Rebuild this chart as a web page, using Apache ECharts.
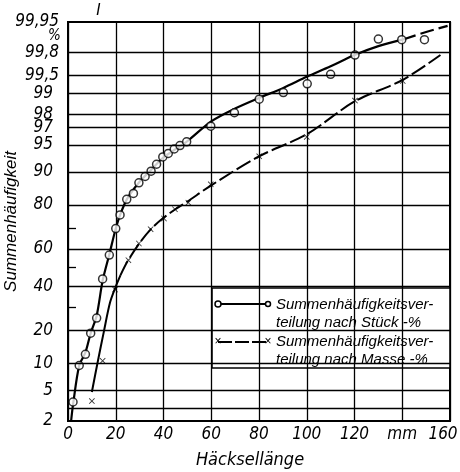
<!DOCTYPE html>
<html><head><meta charset="utf-8">
<script src="https://cdn.jsdelivr.net/npm/echarts@6/dist/echarts.min.js"></script>
<style>html,body{margin:0;padding:0;background:#fff}#c{width:460px;height:472px}</style>
</head><body><div id="c"></div>
<script>
// ---------- data ----------
// measured points: Summenhäufigkeitsverteilung nach Stück (circles)
const stueckX = [2.1, 4.7, 7.3, 9.5, 12.0, 14.5, 17.3, 20.0, 21.8, 24.6, 27.4, 29.7, 32.3, 34.8, 37.1, 39.7, 42.0, 44.5, 46.9, 49.7, 59.8, 69.7, 80.1, 90.2, 100.2, 110.0, 120.2, 130.0, 139.8, 149.3];
const stueckP = [3.6, 9.5, 12.3, 19, 25, 44, 56.7, 70, 76, 82, 84, 87.2, 88.9, 90.2, 91.7, 93.1, 93.7, 94.4, 94.9, 95.4, 97.1, 98.1, 98.8, 99.05, 99.31, 99.52, 99.78, 99.89, 99.887, 99.887];
// measured points: nach Masse (crosses)
const masseX = [10, 14.5, 19.7, 25.3, 29.7, 34.6, 40.2, 44.8, 50.4, 59.8, 80.1, 100, 120.2, 140.2];
const masseP = [3.7, 10.6, 38.5, 54, 62.7, 69.7, 74.5, 78.3, 80.8, 86.8, 93.2, 96.0, 98.74, 99.38];
// fitted curves
const stueckCurveX = [1.3, 2.2, 4.7, 7.3, 9.5, 12, 14.5, 17.3, 20, 22, 25, 30, 35, 40, 50, 60, 70, 80, 90, 100, 110, 120, 130, 140];
const stueckCurveP = [2, 3.5, 9.5, 12.8, 19, 26, 43, 57, 70, 76.5, 82.5, 87.5, 90.6, 93, 95.5, 97.5, 98.35, 98.85, 99.19, 99.47, 99.65, 99.78, 99.85, 99.887];
const stueckDashX = [140, 150, 159];
const stueckDashP = [99.887, 99.92, 99.94];
const masseCurveX = [10, 12.5, 15, 17.6, 20, 22];
const masseCurveP = [4.8, 10.5, 19.5, 32, 40, 46];
const masseDashX = [22, 25, 30, 35, 40, 45, 50, 60, 80, 100, 120, 140, 156];
const masseDashP = [46, 53.5, 63, 70, 74.8, 78.3, 81.2, 86.5, 93.2, 96.3, 98.7, 99.4, 99.78];
// axis ticks
const xTicks = [0, 20, 40, 60, 80, 100, 120, 140, 160];
const xTickLabels = ['0', '20', '40', '60', '80', '100', '120', 'mm', '160'];
const yTickPct = [2, 5, 10, 20, 40, 60, 80, 90, 95, 97, 98, 99, 99.5, 99.8, 99.95];
const yTickLabels = ['2', '5', '10', '20', '40', '60', '80', '90', '95', '97', '98', '99', '99,5', '99,8', '99,95'];
const gridPct = [3, 5, 10, 20, 40, 60, 80, 90, 95, 97, 98, 99, 99.5, 99.8];
const minorTickPct = [30, 50, 70];

// ---------- probability (normal) scale ----------
function probit(p){
  const a=[-3.969683028665376e+01,2.209460984245205e+02,-2.759285104469687e+02,1.383577518672690e+02,-3.066479806614716e+01,2.506628277459239e+00];
  const b=[-5.447609879822406e+01,1.615858368580409e+02,-1.556989798598866e+02,6.680131188771972e+01,-1.328068155288572e+01];
  const c=[-7.784894002430293e-03,-3.223964580411365e-01,-2.400758277161838e+00,-2.549732539343734e+00,4.374664141464968e+00,2.938163982698783e+00];
  const d=[7.784695709041462e-03,3.224671290700398e-01,2.445134137142996e+00,3.754408661907416e+00];
  const pl=0.02425, ph=1-pl; let q,r;
  if(p<pl){q=Math.sqrt(-2*Math.log(p));return (((((c[0]*q+c[1])*q+c[2])*q+c[3])*q+c[4])*q+c[5])/((((d[0]*q+d[1])*q+d[2])*q+d[3])*q+1);}
  if(p<=ph){q=p-0.5;r=q*q;return (((((a[0]*r+a[1])*r+a[2])*r+a[3])*r+a[4])*r+a[5])*q/(((((b[0]*r+b[1])*r+b[2])*r+b[3])*r+b[4])*r+1);}
  q=Math.sqrt(-2*Math.log(1-p));return -(((((c[0]*q+c[1])*q+c[2])*q+c[3])*q+c[4])*q+c[5])/((((d[0]*q+d[1])*q+d[2])*q+d[3])*q+1);
}
const Z = pct => probit(pct / 100);
const pairs = (xs, ps) => xs.map((x, i) => [x, Z(ps[i])]);

const NARROW = "'Liberation Sans Narrow','DejaVu Sans Condensed',sans-serif";
const SANS = "'Liberation Sans','DejaVu Sans',sans-serif";
const crossPath = 'path://M1,0L5,4L9,0L10,1L6,5L10,9L9,10L5,6L1,10L0,9L4,5L0,1Z';
const labelFont = {color: '#000', fontFamily: NARROW, fontStyle: 'italic', fontSize: 17};

const chart = echarts.init(document.getElementById('c'), null, {renderer: 'canvas'});
chart.setOption({
  animation: false,
  backgroundColor: '#fff',
  grid: {left: 68, right: 10, top: 22, bottom: 51, show: true, borderColor: '#000', borderWidth: 2,
         backgroundColor: 'transparent', containLabel: false, outerBoundsMode: 'none'},
  xAxis: {
    type: 'value', min: 0, max: 160, interval: 20,
    name: 'Häcksellänge', nameLocation: 'middle', nameGap: 30, nameMoveOverlap: false,
    nameTextStyle: {fontFamily: NARROW, fontStyle: 'italic', fontSize: 18, color: '#000', padding: [0, 18, 0, 0]},
    axisLine: {onZero: false, lineStyle: {color: '#000', width: 2}},
    axisTick: {show: false},
    axisLabel: Object.assign({
      margin: 5,
      formatter: v => {
        const i = xTicks.indexOf(v);
        if (i < 0) return '';
        return i === xTicks.length - 1 ? '{e|' + xTickLabels[i] + '}' : xTickLabels[i];
      },
      rich: {e: Object.assign({padding: [0, 14, 0, 0]}, labelFont)}
    }, labelFont),
    splitLine: {show: true, lineStyle: {color: '#000', width: 1.3}}
  },
  yAxis: {
    type: 'value', min: Z(yTickPct[0]), max: Z(yTickPct[yTickPct.length - 1]),
    name: 'Summenhäufigkeit', nameLocation: 'middle', nameGap: 48, nameRotate: 90, nameMoveOverlap: false,
    nameTextStyle: {fontFamily: SANS, fontStyle: 'italic', fontSize: 17, color: '#000'},
    axisLine: {onZero: false, lineStyle: {color: '#000', width: 2}},
    axisTick: {show: true, inside: true, length: 8, customValues: minorTickPct.map(Z), lineStyle: {color: '#000', width: 1.3}},
    axisLabel: Object.assign({
      margin: 5,
      customValues: yTickPct.map(Z),
      formatter: v => {
        let best = 0;
        yTickPct.forEach((p, i) => { if (Math.abs(Z(p) - v) < Math.abs(Z(yTickPct[best]) - v)) best = i; });
        const t = yTickLabels[best];
        return t.indexOf(',') >= 0 ? '{l|' + t + '}' : '{s|' + t + '}';
      },
      rich: {
        s: Object.assign({padding: [0, 10, 0, 0]}, labelFont),
        l: Object.assign({padding: [0, 4, 0, 0]}, labelFont)
      }
    }, labelFont),
    splitLine: {show: false}
  },
  series: [
    {
      name: 'grid', type: 'line', data: [], z: 1, silent: true,
      markLine: {
        silent: true, symbol: 'none', label: {show: false}, animation: false,
        lineStyle: {color: '#000', width: 1.3, type: 'solid'},
        data: gridPct.map(p => ({yAxis: Z(p)}))
      }
    },
    {name: 'Stück Kurve', type: 'line', data: pairs(stueckCurveX, stueckCurveP), smooth: 0.3, showSymbol: false, z: 3,
     lineStyle: {color: '#000', width: 2.2}},
    {name: 'Stück Kurve (extrapoliert)', type: 'line', data: pairs(stueckDashX, stueckDashP), smooth: 0.3, showSymbol: false, z: 3,
     lineStyle: {color: '#000', width: 2.2, type: [14, 5]}},
    {name: 'Masse Kurve', type: 'line', data: pairs(masseCurveX, masseCurveP), smooth: 0.3, showSymbol: false, z: 3,
     lineStyle: {color: '#000', width: 2}},
    {name: 'Masse Kurve (gestrichelt)', type: 'line', data: pairs(masseDashX, masseDashP), smooth: 0.3, showSymbol: false, z: 3,
     lineStyle: {color: '#000', width: 2, type: [16, 4]}},
    {name: 'Summenhäufigkeitsverteilung nach Stück -%', type: 'scatter', data: pairs(stueckX, stueckP), z: 4,
     symbol: 'circle', symbolSize: 8, itemStyle: {color: '#fff', borderColor: '#000', borderWidth: 1.5}},
    {name: 'Summenhäufigkeitsverteilung nach Masse -%', type: 'scatter', data: pairs(masseX, masseP), z: 4,
     symbol: crossPath, symbolSize: 6, itemStyle: {color: '#000'}}
  ],
  graphic: [
    {type: 'text', left: 96, top: 3, z: 10, style: {text: 'I', fontFamily: SANS, fontStyle: 'italic', fontSize: 16, fill: '#000'}},
    {type: 'text', left: 48, top: 29, z: 10, style: {text: '%', fontFamily: NARROW, fontStyle: 'italic', fontSize: 15, fill: '#000'}},
    {type: 'group', z: 20, children: [
      {type: 'rect', shape: {x: 212, y: 288, width: 238, height: 80}, style: {fill: '#fff', stroke: '#000', lineWidth: 1.5}},
      {type: 'line', shape: {x1: 218, y1: 304, x2: 268, y2: 304}, style: {stroke: '#000', lineWidth: 2}},
      {type: 'circle', shape: {cx: 218, cy: 304, r: 3}, style: {fill: '#fff', stroke: '#000', lineWidth: 1.5}},
      {type: 'circle', shape: {cx: 268, cy: 304, r: 2.5}, style: {fill: '#fff', stroke: '#000', lineWidth: 1.5}},
      {type: 'text', x: 276, y: 296, style: {text: 'Summenhäufigkeitsver-\nteilung nach Stück -%', fontFamily: SANS, fontStyle: 'italic', fontSize: 15, lineHeight: 18, fill: '#000', verticalAlign: 'top'}},
      {type: 'line', shape: {x1: 218, y1: 342, x2: 268, y2: 342}, style: {stroke: '#000', lineWidth: 2, lineDash: [14, 3]}},
      {type: 'text', x: 218, y: 342, style: {text: '×', fontFamily: SANS, fontSize: 12, fill: '#000', align: 'center', verticalAlign: 'middle'}},
      {type: 'text', x: 268, y: 342, style: {text: '×', fontFamily: SANS, fontSize: 12, fill: '#000', align: 'center', verticalAlign: 'middle'}},
      {type: 'text', x: 276, y: 333, style: {text: 'Summenhäufigkeitsver-\nteilung nach Masse -%', fontFamily: SANS, fontStyle: 'italic', fontSize: 15, lineHeight: 18, fill: '#000', verticalAlign: 'top'}}
    ]}
  ]
});
</script>
</body></html>
